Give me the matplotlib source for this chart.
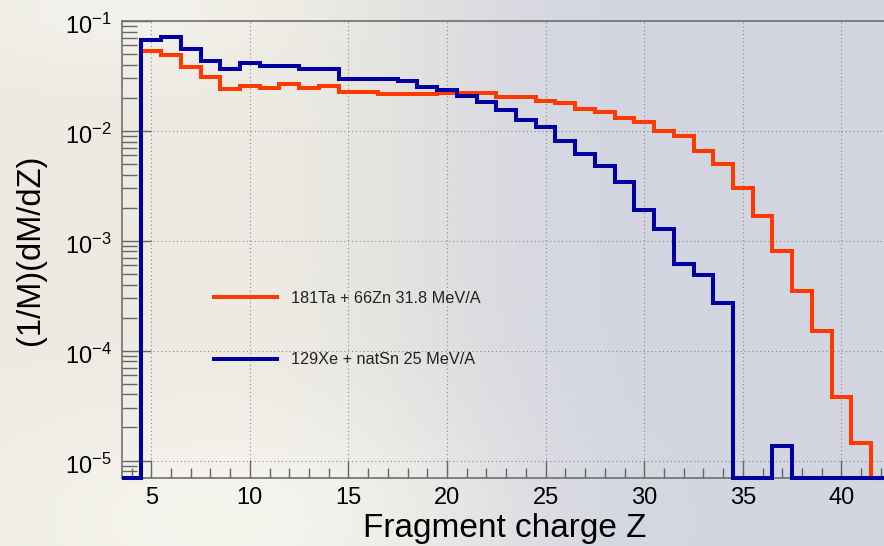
import numpy as np
import matplotlib
matplotlib.use('Agg')
import matplotlib.pyplot as plt
import matplotlib.transforms as mtransforms
from matplotlib.ticker import FixedLocator, MultipleLocator, LogLocator, NullFormatter

plt.rcParams['font.family'] = ['Liberation Sans', 'DejaVu Sans']
plt.rcParams['mathtext.fontset'] = 'custom'
plt.rcParams['mathtext.rm'] = 'Liberation Sans'

# data: 1/M dM/dZ per charge bin (bins of width 1 centred on Z)
z_bins = np.arange(4, 43)
ta_zn = [0, 0.0533, 0.0488, 0.0379, 0.0307, 0.0239, 0.0255, 0.0244, 0.0267, 0.0244,
         0.0255, 0.0226, 0.0226, 0.0215, 0.0215, 0.0218, 0.0222, 0.0220, 0.0222, 0.0203,
         0.0203, 0.0187, 0.0181, 0.0159, 0.0148, 0.0130, 0.0120, 0.00997, 0.0090, 0.00656,
         0.0050, 0.00302, 0.00169, 0.000807, 0.000347, 0.000152, 3.81e-5, 1.44e-5, 0]
xe_sn = [0, 0.0672, 0.0711, 0.0556, 0.0430, 0.0364, 0.0412, 0.0390, 0.0390, 0.0366,
         0.0366, 0.0299, 0.0299, 0.0299, 0.0285, 0.0249, 0.0236, 0.0208, 0.0182, 0.0154,
         0.0125, 0.0108, 0.00810, 0.00612, 0.00480, 0.00341, 0.00190, 0.00127, 0.000621, 0.000491,
         0.000274, 0, 0, 1.36e-5, 0, 0, 0, 0, 0]
labels = ['181Ta + 66Zn 31.8 MeV/A', '129Xe + natSn 25 MeV/A']
colors = ['#ff3a00', '#0000a0']

YMIN = 10 ** -5.154
YMAX = 0.1
edges = np.append(z_bins - 0.5, z_bins[-1] + 0.5)

W, H = 884, 546
fig = plt.figure(figsize=(W / 100, H / 100), dpi=100)
fig.patch.set_alpha(0)

# soft background: cream on the left fading to grey-lavender on the right
xx, yy = np.meshgrid(np.arange(W), np.arange(H))
t = np.clip((xx - 230) / 420.0, 0, 1)
t = t * t * (3 - 2 * t)
cream = np.array([236, 234, 225]) / 255.0
lav = np.array([211, 213, 224]) / 255.0
bg = cream[None, None, :] * (1 - t[..., None]) + lav[None, None, :] * t[..., None]
light = np.exp(-(((xx - 220) / 260.0) ** 2 + ((yy - 520) / 120.0) ** 2))
bg = bg + (np.array([247, 246, 240]) / 255.0 - bg) * light[..., None] * 0.8
light2 = np.exp(-(((xx - 120) / 160.0) ** 2 + ((yy - 10) / 60.0) ** 2))
bg = bg + (np.array([246, 245, 240]) / 255.0 - bg) * light2[..., None] * 0.7
fig.figimage(bg, xo=0, yo=0, origin='upper', zorder=-10)

ax = fig.add_axes([121.7 / W, 1 - 477.5 / H, 769 / W, (477.5 - 21) / H])
ax.set_facecolor('none')
ax.set_yscale('log')
ax.set_xlim(3.5, 42.5)
ax.set_ylim(YMIN, YMAX)

for vals, lab, col in zip([ta_zn, xe_sn], labels, colors):
    v = np.array(vals, dtype=float)
    v = np.where(v > 0, v, YMIN)
    ax.stairs(v, edges, baseline=None, color=col, lw=2.9, label=lab, clip_on=False, zorder=3)

# ticks
ax.xaxis.set_major_locator(FixedLocator([5, 10, 15, 20, 25, 30, 35, 40]))
ax.xaxis.set_minor_locator(MultipleLocator(1))
ax.yaxis.set_minor_locator(LogLocator(base=10, subs=np.arange(2, 10), numticks=20))
ax.yaxis.set_minor_formatter(NullFormatter())
ax.set_yticks([1e-5, 1e-4, 1e-3, 1e-2, 1e-1])
ax.set_yticklabels([r'$\mathregular{10^{-%d}}$' % k for k in [5, 4, 3, 2, 1]])

ax.tick_params(axis='x', which='major', direction='in', length=13, width=1, color='#666666',
               labelsize=17, pad=7, top=False)
ax.tick_params(axis='x', which='minor', direction='in', length=7, width=1, color='#666666', top=False)
ax.tick_params(axis='y', which='major', direction='in', length=21, width=1, color='#666666',
               labelsize=17, pad=7, right=False)
ax.tick_params(axis='y', which='minor', direction='in', length=11, width=1, color='#666666', right=False)

# ROOT puts the exponent labels a little below the tick
shift = mtransforms.ScaledTranslation(0, -3 / 100, fig.dpi_scale_trans)
for lbl in ax.get_yticklabels():
    lbl.set_transform(lbl.get_transform() + shift)

ax.grid(True, which='major', linestyle=(0, (1, 2.5)), color='#8a8a8a', lw=0.8)

for side in ['left', 'top', 'bottom']:
    ax.spines[side].set_color('#707070')
    ax.spines[side].set_linewidth(1.2)
ax.spines['right'].set_visible(False)

ax.set_xlabel('Fragment charge Z', fontsize=24)
ax.xaxis.set_label_coords((505 - 121.7) / 769, -(528 - 477.5) / (477.5 - 21))
ax.xaxis.label.set_va('center')
ax.set_ylabel('(1/M)(dM/dZ)', fontsize=23.5)
ax.yaxis.set_label_coords(-(121.7 - 30) / 769, (477.5 - 250) / (477.5 - 21))
ax.yaxis.label.set_va('center')

leg = ax.legend(loc='upper left', bbox_to_anchor=(214 / W, 1 - 291 / H),
                bbox_transform=fig.transFigure, frameon=False, fontsize=11.7,
                handlelength=3.9, handletextpad=0.86, labelspacing=2.85,
                borderpad=0, borderaxespad=0)
for txt in leg.get_texts():
    txt.set_color('#222222')

fig.savefig('out.png', dpi=100)
